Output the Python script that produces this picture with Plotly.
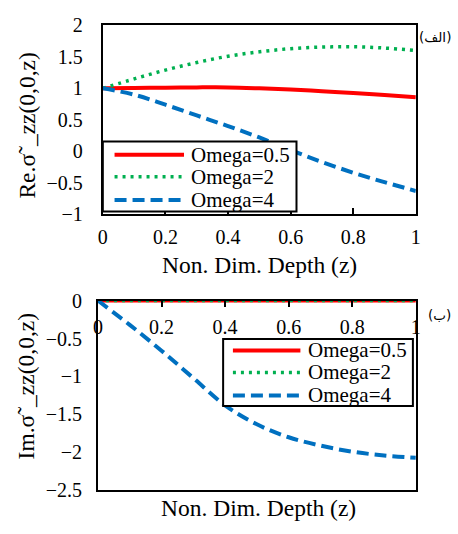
import plotly.graph_objects as go

# ---- data ----
z = [0.0, 0.1, 0.2, 0.3, 0.4, 0.5, 0.6, 0.7, 0.8, 0.9, 1.0]
re_omega_05 = [1.0, 1.005, 1.01, 1.015, 1.015, 1.0, 0.98, 0.955, 0.925, 0.895, 0.86]
re_omega_2 = [1.0, 1.15, 1.29, 1.41, 1.51, 1.58, 1.63, 1.655, 1.66, 1.64, 1.60]
re_omega_4 = [1.0, 0.9, 0.74, 0.57, 0.40, 0.22, 0.02, -0.17, -0.34, -0.49, -0.63]
im_omega_05 = [0.0] * 11
im_omega_2 = [0.0] * 11
im_omega_4 = [0.0, -0.32, -0.66, -1.02, -1.38, -1.63, -1.80, -1.91, -1.99, -2.04, -2.07]
series_names = ["Omega=0.5", "Omega=2", "Omega=4"]
x_ticks = [0, 0.2, 0.4, 0.6, 0.8, 1]
x_tick_text = ["0", "0.2", "0.4", "0.6", "0.8", "1"]

W, H = 458, 534
FONT = "Liberation Serif"
colors = ["#FF0000", "#00B050", "#0070C0"]
dashes = ["solid", "3px,5px", "12px,6px"]
widths = [4, 3.5, 4]

fig = go.Figure()
for vals, name, c, d, w in zip([re_omega_05, re_omega_2, re_omega_4], series_names, colors, dashes, widths):
    fig.add_trace(go.Scatter(x=z, y=vals, mode="lines", name=name, xaxis="x", yaxis="y",
                             line=dict(color=c, dash=d, width=w, shape="spline"), showlegend=False))
for vals, name, c, d, w in zip([im_omega_05, im_omega_2, im_omega_4], series_names, colors, dashes, widths):
    fig.add_trace(go.Scatter(x=z, y=vals, mode="lines", name=name, xaxis="x2", yaxis="y2", cliponaxis=False,
                             line=dict(color=c, dash=d, width=w, shape="spline"), showlegend=False))

def px_x(p):
    return p / W

def px_y(p):
    return 1 - p / H

axis_common = dict(showline=True, linecolor="black", linewidth=2, mirror=True, showgrid=False,
                   zeroline=False, tickfont=dict(family=FONT, size=20, color="black"))

fig.update_layout(
    width=W, height=H, margin=dict(l=0, r=0, t=0, b=0),
    paper_bgcolor="white", plot_bgcolor="white",
    font=dict(family=FONT, size=20, color="black"),
    showlegend=False,
    xaxis=dict(domain=[px_x(100), px_x(420)], range=[0, 1], anchor="y",
               tickvals=x_ticks, ticktext=x_tick_text, ticks="inside", ticklen=6, tickcolor="black",
               tickwidth=1.5, ticklabelstandoff=4, **axis_common),
    yaxis=dict(domain=[px_y(212), px_y(15)], range=[-1, 2], anchor="x", dtick=0.5,
               ticks="", ticklabelstandoff=14, **axis_common),
    xaxis2=dict(domain=[px_x(95), px_x(420)], range=[0, 1], anchor="y2", side="top",
                tickvals=x_ticks, ticktext=x_tick_text, ticks="inside", ticklen=6, tickcolor="black",
                tickwidth=1.5, ticklabelposition="inside", ticklabeloverflow="allow",
                ticklabelstandoff=14, **axis_common),
    yaxis2=dict(domain=[px_y(500), px_y(302)], range=[-2.5, 0], anchor="x2", dtick=0.5,
                ticks="", ticklabelstandoff=10, ticklabeloverflow="allow", **axis_common),
)

# ---- legends (box, line samples and labels) ----
legend_specs = [
    dict(box=(100, 136, 298, 209), line_x=(112, 183), text_x=188, rows=(150, 173, 197)),
    dict(box=(223, 342, 417, 412), line_x=(233, 302), text_x=308, rows=(354, 377, 401)),
]
shapes = []
annotations = []
for spec in legend_specs:
    x0, y0, x1, y1 = spec["box"]
    shapes.append(dict(type="rect", xref="paper", yref="paper", x0=px_x(x0), x1=px_x(x1),
                       y0=px_y(y1), y1=px_y(y0), fillcolor="white",
                       line=dict(color="black", width=2), layer="above"))
    for name, c, d, w, ry in zip(series_names, colors, dashes, widths, spec["rows"]):
        shapes.append(dict(type="line", xref="paper", yref="paper",
                           x0=px_x(spec["line_x"][0]), x1=px_x(spec["line_x"][1]),
                           y0=px_y(ry), y1=px_y(ry), line=dict(color=c, dash=d, width=w), layer="above"))
        annotations.append(dict(text=name, x=px_x(spec["text_x"]), y=px_y(ry), xanchor="left",
                                font=dict(family=FONT, size=21, color="black")))

title_font = dict(family=FONT, size=23.5, color="black")
annotations += [
    dict(text="Non. Dim. Depth (z)", x=px_x(260), y=px_y(265), font=title_font),
    dict(text="Non. Dim. Depth (z)", x=px_x(259), y=px_y(518), font=title_font),
    dict(text="Re.σ˜_zz(0,0,z)", x=px_x(23), y=px_y(119), textangle=-90, font=title_font),
    dict(text="Im.σ˜_zz(0,0,z)", x=px_x(21), y=px_y(392), textangle=-90, font=title_font),
    dict(text="(الف)", x=px_x(440), y=px_y(27), font=dict(family="DejaVu Sans", size=13.5, color="black")),
    dict(text="(ب)", x=px_x(444), y=px_y(317), font=dict(family="DejaVu Sans", size=13.5, color="black")),
]
for a in annotations:
    a.setdefault("xanchor", "center")
    a.update(xref="paper", yref="paper", yanchor="middle", showarrow=False)
fig.update_layout(annotations=annotations, shapes=shapes)

fig.write_html("out.html")
